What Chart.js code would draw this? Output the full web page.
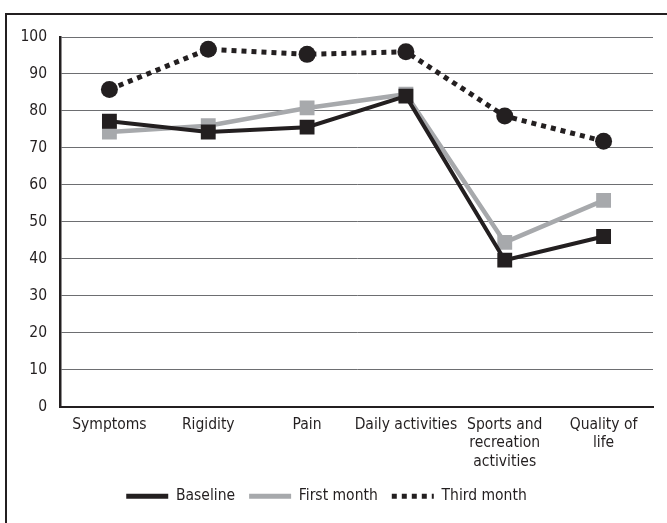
<!DOCTYPE html>
<html>
<head>
<meta charset="utf-8">
<script src="https://cdn.jsdelivr.net/npm/chart.js@4"></script>
<style>
  body { margin: 0; background: #fff; }
  #wrap { position: relative; width: 667px; height: 523px; overflow: hidden; }
  #frame { position: absolute; left: 5px; top: 13px; width: 670px; height: 520px;
           border: 2px solid #231f20; box-sizing: border-box; pointer-events: none; }
</style>
</head>
<body>
<div id="wrap">
  <canvas id="chart" width="667" height="523"></canvas>
  <div id="frame"></div>
</div>
<script>
const categories = ['Symptoms', 'Rigidity', 'Pain', 'Daily activities',
    ['Sports and', 'recreation', 'activities'], ['Quality of', 'life']];
const baseline = [77.2, 74.3, 75.6, 84, 39.6, 46];
const firstMonth = [74.3, 76, 80.8, 84.5, 44.4, 55.8];
const thirdMonth = [85.8, 96.7, 95.3, 96, 78.6, 71.8];
const yTicks = [0, 10, 20, 30, 40, 50, 60, 70, 80, 90, 100];

const FONT = "'Liberation Sans Narrow', 'DejaVu Sans Condensed', 'Roboto', sans-serif";
const ink = '#231f20';
const grey = '#a7a9ac';

const ctx = document.getElementById('chart');

new Chart(ctx, {
    type: 'line',
    data: {
        labels: categories,
        datasets: [
            {
                label: 'Baseline',
                data: baseline,
                borderColor: ink,
                backgroundColor: ink,
                borderWidth: 4,
                pointStyle: 'rect',
                pointRadius: 10.5,
                pointBorderWidth: 0,
            },
            {
                label: 'First month',
                data: firstMonth,
                borderColor: grey,
                backgroundColor: grey,
                borderWidth: 4.5,
                pointStyle: 'rect',
                pointRadius: 10.5,
                pointBorderWidth: 0,
            },
            {
                label: 'Third month',
                data: thirdMonth,
                borderColor: ink,
                backgroundColor: ink,
                borderWidth: 5,
                borderDash: [5, 5],
                pointStyle: 'circle',
                pointRadius: 8.5,
                pointBorderWidth: 0,
            }
        ]
    },
    options: {
        responsive: false,
        animation: false,
        layout: { padding: { top: 37, right: 14, left: 0, bottom: 9 } },
        scales: {
            x: {
                offset: true,
                grid: { display: false, drawTicks: false, offset: true },
                border: { color: ink, width: 2 },
                ticks: {
                    color: ink,
                    font: { family: FONT, size: 15.5 },
                    padding: 9,
                    maxRotation: 0,
                    autoSkip: false,
                },
                afterFit: (scale) => { scale.height = 68; }
            },
            y: {
                min: 0,
                max: 100,
                afterBuildTicks: (scale) => { scale.ticks = yTicks.map(v => ({ value: v })); },
                grid: { color: '#6d6e71', lineWidth: 1, drawTicks: false },
                border: { color: ink, width: 2.5 },
                ticks: {
                    color: ink,
                    font: { family: FONT, size: 15.5 },
                    padding: 13,
                },
                afterFit: (scale) => { scale.width = 60; }
            }
        },
        plugins: {
            legend: {
                position: 'bottom',
                labels: {
                    color: ink,
                    font: { family: FONT, size: 15.5 },
                    usePointStyle: true,
                    pointStyleWidth: 42,
                    boxWidth: 42,
                    padding: 14,
                    generateLabels: (chart) => chart.data.datasets.map((ds, i) => ({
                        text: ds.label,
                        datasetIndex: i,
                        pointStyle: 'line',
                        strokeStyle: ds.borderColor,
                        fillStyle: ds.borderColor,
                        lineWidth: 5,
                        lineDash: ds.borderDash || [],
                        fontColor: ink,
                    }))
                }
            },
            tooltip: { enabled: false }
        }
    }
});
</script>
</body>
</html>
